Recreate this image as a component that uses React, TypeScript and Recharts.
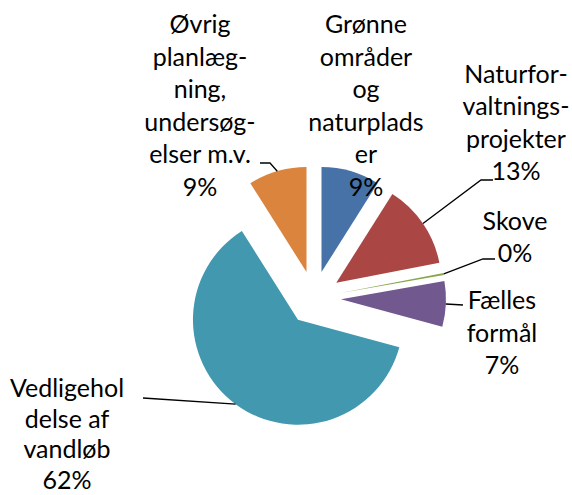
import * as React from "react"
import { PieChart, Pie, Cell } from "recharts"

// budget split, clockwise from 12 o'clock
const categories = [
  "Grønne områder og naturpladser",
  "Naturforvaltningsprojekter",
  "Skove",
  "Fælles formål",
  "Vedligeholdelse af vandløb",
  "Øvrig planlægning, undersøgelser m.v.",
]
const values = [9, 13, 0.3, 7, 62, 9]
const percentLabels = ["9%", "13%", "0%", "7%", "62%", "9%"]
// wrapped the way the original data labels are
const labelLines = [
  ["Grønne", "områder", "og", "naturplads", "er"],
  ["Naturfor-", "valtnings-", "projekter"],
  ["Skove"],
  ["Fælles", "formål"],
  ["Vedligehol", "delse af", "vandløb"],
  ["Øvrig", "planlæg-", "ning,", "undersøg-", "elser m.v."],
]
const colors = ["#4672A8", "#AA4643", "#89A54E", "#71588F", "#4198AF", "#DB843D"]

// layout
const W = 572
const H = 495
const CX = 314
const CY = 298
const R = 105
const EXPLODE = 27
const FONT = "Lato, 'Noto Sans', sans-serif"
const labelPos = [
  { x: 366, y: 33, lh: 32.5 },
  { x: 516, y: 82.5, lh: 32.5 },
  { x: 515, y: 229.5, lh: 32.5 },
  { x: 502, y: 309, lh: 32.5 },
  { x: 67, y: 397, lh: 30.7 },
  { x: 200, y: 33, lh: 32.5 },
]
const leaderPts: number[][][] = [
  [],
  [[481, 180], [493, 180]],
  [[483, 259], [495, 259]],
  [[463, 305]],
  [[143, 398]],
  [[270, 163], [260, 163]],
]

const data = categories.map((name, i) => ({ name, value: values[i] }))
const total = values.reduce((a, b) => a + b, 0)

function midDeg(i: number) {
  let cum = 0
  for (let j = 0; j < i; j++) cum += values[j]
  return (360 * (cum + values[i] / 2)) / total
}

function makeLabel(slice: number) {
  return (props: any) => {
    if (props.index !== slice) return null
    const rad = (-props.midAngle * Math.PI) / 180
    const sx = props.cx + props.outerRadius * Math.cos(rad)
    const sy = props.cy + props.outerRadius * Math.sin(rad)
    const pts = [[sx, sy], ...leaderPts[slice]]
    const lines = [...labelLines[slice], percentLabels[slice]]
    const p = labelPos[slice]
    return (
      <g key={"lbl" + slice}>
        {leaderPts[slice].length > 0 && (
          <polyline points={pts.map((q) => q.join(",")).join(" ")} fill="none" stroke="#000" strokeWidth={1.3} />
        )}
        {lines.map((t, k) => (
          <text key={k} x={p.x} y={p.y + k * p.lh} textAnchor="middle" fontFamily={FONT} fontSize={25} fill="#000">
            {t}
          </text>
        ))}
      </g>
    )
  }
}

export default function App() {
  return (
    <div style={{ position: "absolute", left: 0, top: 0, width: W, height: H, background: "#fff" }}>
      <PieChart width={W} height={H} margin={{ top: 0, right: 0, bottom: 0, left: 0 }}>
        {categories.map((_, i) => {
          const a = (midDeg(i) * Math.PI) / 180
          return (
            <Pie
              key={i}
              data={data}
              dataKey="value"
              nameKey="name"
              cx={CX + EXPLODE * Math.sin(a)}
              cy={CY - EXPLODE * Math.cos(a)}
              outerRadius={R}
              startAngle={90}
              endAngle={-270}
              stroke="none"
              label={makeLabel(i)}
              labelLine={false}
              isAnimationActive={false}
            >
              {data.map((_, j) => (
                <Cell key={j} fill={j === i ? colors[i] : "transparent"} stroke="none" />
              ))}
            </Pie>
          )
        })}
      </PieChart>
    </div>
  )
}
